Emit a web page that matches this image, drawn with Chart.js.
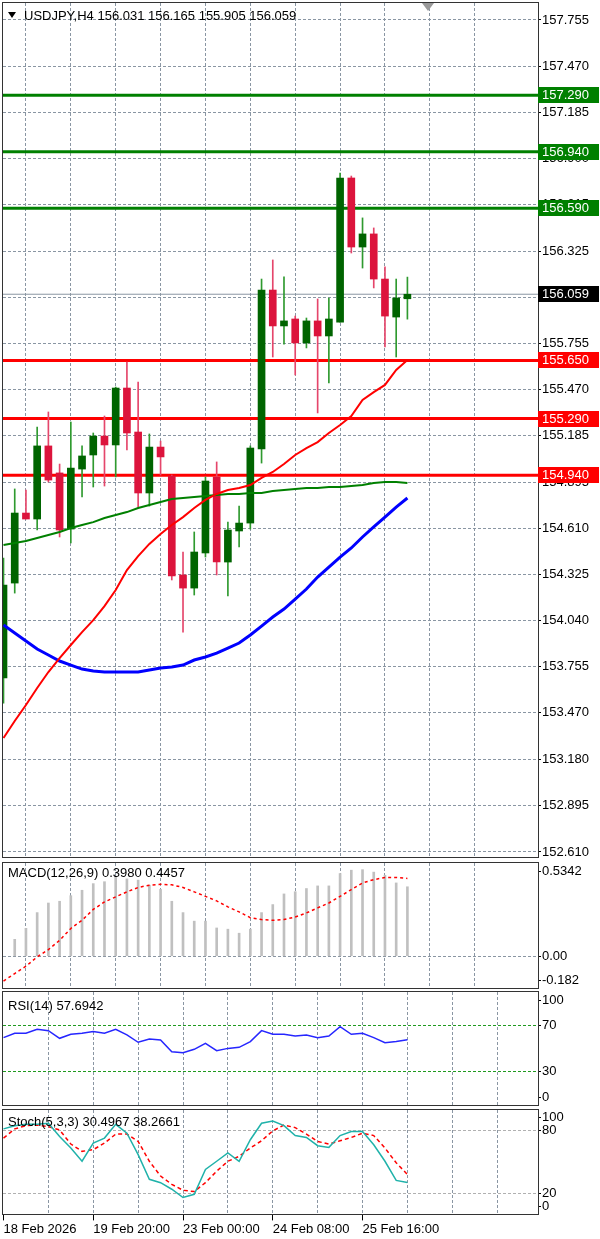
<!DOCTYPE html>
<html>
<head>
<meta charset="utf-8">
<script src="https://cdn.jsdelivr.net/npm/chart.js"></script>
<style>
  body { margin: 0; background: #fff; width: 600px; height: 1239px; position: relative; overflow: hidden;
         font-family: "Liberation Sans", Arial, sans-serif; }
  canvas { position: absolute; left: 0; }
  .lbl { position: absolute; left: 8px; font-size: 13px; line-height: 13px; color: #000; white-space: pre; }
  .tri { position: absolute; width: 0; height: 0; border-left: 4px solid transparent;
         border-right: 4px solid transparent; border-top: 6px solid #000; }
  .shift { position: absolute; left: 422px; top: 3px; width: 0; height: 0; border-left: 6px solid transparent;
           border-right: 6px solid transparent; border-top: 8px solid #9a9a9a; }
</style>
</head>
<body>
<canvas id="mainChart" width="600" height="860" style="top:0"></canvas>
<canvas id="macdChart" width="600" height="130" style="top:860px"></canvas>
<canvas id="rsiChart" width="600" height="117" style="top:989px"></canvas>
<canvas id="stochChart" width="600" height="133" style="top:1106px"></canvas>

<div class="tri" style="left:8px;top:12px"></div>
<div class="shift"></div>
<div class="lbl" style="left:24px;top:9px">USDJPY,H4 156.031 156.165 155.905 156.059</div>
<div class="lbl" style="top:866px">MACD(12,26,9) 0.3980 0.4457</div>
<div class="lbl" style="top:999px">RSI(14) 57.6942</div>
<div class="lbl" style="top:1115px">Stoch(5,3,3) 30.4967 38.2661</div>

<script>
/*********  data  *********/
const opens  = [153.686,154.273,154.706,154.669,155.121,154.954,154.607,154.978,155.065,155.182,155.127,155.479,155.207,154.830,155.114,154.935,154.323,154.242,154.459,154.929,154.403,154.595,154.644,155.102,156.085,155.863,155.906,155.758,155.894,155.801,155.887,156.778,156.351,156.432,156.153,155.918,156.031];
const highs  = [154.428,154.855,154.848,155.238,155.331,155.009,155.269,155.121,155.201,155.306,155.485,155.640,155.516,155.195,155.151,154.941,154.465,154.589,154.929,155.022,154.650,154.749,155.121,156.153,156.271,156.166,155.924,155.912,156.030,156.036,156.809,156.790,156.531,156.469,156.228,156.153,156.165];
const lows   = [153.531,154.211,154.669,154.601,154.898,154.558,154.521,154.805,154.867,154.873,154.929,155.096,154.743,154.749,154.941,154.292,153.970,154.199,154.434,154.323,154.193,154.496,154.607,155.015,155.671,155.751,155.560,155.727,155.325,155.510,155.887,156.314,156.221,156.098,155.733,155.671,155.905];
const closes = [154.261,154.706,154.669,155.121,154.910,154.601,154.984,155.059,155.182,155.127,155.479,155.201,154.830,155.114,155.053,154.317,154.242,154.465,154.904,154.403,154.601,154.644,155.108,156.085,155.863,155.894,155.758,155.894,155.801,155.906,156.778,156.351,156.432,156.153,155.924,156.036,156.059];

const maRed   = [153.315,153.420,153.519,153.624,153.723,153.809,153.890,153.970,154.044,154.130,154.230,154.353,154.440,154.515,154.576,154.632,154.681,154.737,154.787,154.824,154.848,154.861,154.879,154.923,154.960,155.009,155.065,155.108,155.145,155.201,155.250,155.306,155.405,155.454,155.498,155.591,155.652];
const maGreen = [154.508,154.521,154.533,154.552,154.570,154.589,154.613,154.632,154.650,154.675,154.694,154.712,154.737,154.756,154.774,154.793,154.799,154.805,154.811,154.818,154.824,154.824,154.830,154.830,154.842,154.848,154.855,154.861,154.861,154.867,154.867,154.873,154.879,154.892,154.898,154.898,154.892];
const maBlue  = [154.014,153.964,153.915,153.865,153.828,153.791,153.766,153.741,153.729,153.723,153.723,153.723,153.723,153.735,153.748,153.754,153.766,153.797,153.816,153.840,153.871,153.902,153.952,154.007,154.063,154.112,154.174,154.236,154.310,154.372,154.434,154.490,154.558,154.620,154.681,154.743,154.799];

const levelsGreen = [157.290, 156.940, 156.590];
const levelsRed   = [155.650, 155.290, 154.940];
const lastPrice = 156.059;

const priceTicks = [157.755,157.470,157.185,156.900,156.615,156.325,156.040,155.755,155.470,155.185,154.895,154.610,154.325,154.040,153.755,153.470,153.180,152.895,152.610];

const macdHist   = [null,0.097,0.160,0.250,0.305,0.315,0.347,0.378,0.416,0.427,0.454,0.443,0.436,0.407,0.383,0.315,0.250,0.201,0.201,0.162,0.155,0.132,0.155,0.250,0.296,0.357,0.370,0.388,0.403,0.403,0.474,0.493,0.496,0.482,0.464,0.420,0.398];
const macdSignal = [-0.142,-0.099,-0.057,-0.004,0.038,0.091,0.159,0.206,0.268,0.311,0.340,0.369,0.394,0.407,0.412,0.409,0.394,0.369,0.343,0.317,0.283,0.254,0.221,0.210,0.206,0.210,0.225,0.248,0.277,0.305,0.343,0.382,0.420,0.439,0.451,0.451,0.446];
const macdTicks = [0.5342, 0, -0.182];
const macdTickLabels = ['0.5342', '0.00', '-0.182'];

const rsiValues = [59.6,63.5,63.5,67.0,65.8,59.0,62.6,63.5,65.0,63.5,67.0,62.0,55.5,58.4,57.6,47.2,46.3,49.3,54.6,48.1,50.1,51.0,56.1,65.8,62.6,62.6,61.1,62.0,59.6,61.1,69.4,62.6,63.5,59.6,55.2,56.1,57.7];
const rsiTicks = [100, 70, 30, 0];
const rsiLevels = [70, 30];

const stochMain   = [81.9,85.0,86.3,86.3,87.3,74.6,63.6,50.9,68.3,73.1,86.3,77.8,57.3,33.6,30.4,24.1,16.2,19.3,43.0,50.9,58.9,50.9,71.5,87.3,89.5,85.0,75.5,73.7,65.8,64.2,75.5,79.3,79.3,66.7,50.9,32.6,30.5];
const stochSignal = [73.1,81.9,85.0,85.6,84.1,80.9,67.4,60.4,62.0,68.3,76.9,76.9,69.9,50.9,36.7,28.8,23.1,21.9,30.4,41.4,50.9,55.6,63.6,70.5,80.0,85.6,83.1,76.9,69.9,67.4,70.5,73.7,77.8,75.5,63.6,49.4,38.3];
const stochTicks = [100, 80, 20, 0];
const stochLevels = [80, 20];

// one label every 8 bars, grid every 4
const xTickLabels = ['18 Feb 2026', '19 Feb 20:00', '23 Feb 00:00', '24 Feb 08:00', '25 Feb 16:00'];
const gridBars = [0, 4, 8, 12, 16, 20, 24, 28, 32, 36, 40, 44];

/*********  common  *********/
const X_MIN = -0.045, X_MAX = 47.64;
const GRID = '#8a96a3';
const NONE = 'rgba(0,0,0,0)';
Chart.defaults.font.family = '"Liberation Sans", Arial, sans-serif';
Chart.defaults.font.size = 13;
Chart.defaults.color = '#000';
Chart.defaults.animation = false;
Chart.defaults.events = [];
Chart.defaults.plugins.legend.display = false;
Chart.defaults.plugins.tooltip.enabled = false;

const idx = closes.map((_, i) => i);
const pts = arr => idx.map(i => ({ x: i, y: arr[i] }));

const frame = {
  id: 'frame',
  afterDraw(chart) {
    const { ctx, chartArea: a } = chart;
    ctx.save();
    ctx.strokeStyle = '#333';
    ctx.lineWidth = 1;
    ctx.strokeRect(Math.round(a.left) - 0.5, Math.round(a.top) - 0.5,
                   Math.round(a.right - a.left) + 1, Math.round(a.bottom - a.top) + 1);
    ctx.restore();
  }
};

function xAxis(withLabels) {
  const labelled = v => v % 8 === 0 && v / 8 < xTickLabels.length;
  return {
    type: 'linear', min: X_MIN, max: X_MAX, offset: false,
    afterBuildTicks: s => { s.ticks = gridBars.map(v => ({ value: v })); },
    afterFit: s => { s.paddingLeft = 0; s.paddingRight = 0; },
    grid: {
      color: c => (c.tick && c.tick.value > 0 ? GRID : NONE),
      drawTicks: withLabels, tickLength: 6, tickBorderDash: [],
      tickColor: c => (c.tick && labelled(c.tick.value) ? '#000' : NONE)
    },
    border: { display: false, dash: [3, 2] },
    ticks: {
      display: withLabels, align: 'start', padding: 1, maxRotation: 0, autoSkip: false,
      callback: v => (labelled(v) ? xTickLabels[v / 8] : '')
    }
  };
}

// sub window scale, top and bottom labels sit a little inside like MT4
function paneAxis(min, max, values, texts, levels, levelColor, paneH) {
  const inset = (max - min) * 8 / paneH;
  return {
    position: 'right', min: min, max: max,
    afterBuildTicks: s => {
      s.ticks = values.map((v, i) => ({
        value: v === max ? max - inset : v === min ? min + inset : v,
        text: texts[i], level: levels.includes(v)
      }));
    },
    afterFit: s => { s.width = 62; s.paddingTop = 0; s.paddingBottom = 0; },
    grid: { color: c => (c.tick && c.tick.level ? levelColor : NONE), tickLength: 3, tickColor: '#000', tickBorderDash: [] },
    border: { display: false, dash: [3, 2] },
    ticks: { padding: 1, autoSkip: false, callback: (v, i, t) => t[i].text }
  };
}

/*********  price window  *********/
const hline = (v, color, w) => ({
  type: 'line', data: [{ x: X_MIN, y: v }, { x: X_MAX, y: v }],
  borderColor: color, borderWidth: w, pointRadius: 0, order: 4
});
const maLine = (arr, color, w) => ({
  type: 'line', data: pts(arr), borderColor: color, borderWidth: w, pointRadius: 0, tension: 0, order: 0
});
const bull = i => closes[i] >= opens[i];

const levelTags = {
  id: 'levelTags',
  afterDraw(chart) {
    const { ctx, chartArea: a, scales: { y } } = chart;
    const tag = (v, bg) => {
      const py = Math.round(y.getPixelForValue(v));
      ctx.fillStyle = bg;
      ctx.fillRect(a.right, py - 8, 61, 16);
      ctx.fillStyle = '#fff';
      ctx.textBaseline = 'middle';
      ctx.textAlign = 'left';
      ctx.fillText(v.toFixed(3), a.right + 4, py);
    };
    ctx.save();
    ctx.font = '13px "Liberation Sans", Arial, sans-serif';
    levelsGreen.forEach(v => tag(v, '#008000'));
    levelsRed.forEach(v => tag(v, '#ff0000'));
    tag(lastPrice, '#000');
    ctx.restore();
  }
};

new Chart(document.getElementById('mainChart'), {
  type: 'bar',
  data: {
    datasets: [
      ...levelsGreen.map(v => hline(v, '#008000', 3)),
      ...levelsRed.map(v => hline(v, '#ff0000', 3)),
      hline(lastPrice, GRID, 1),
      {
        data: idx.map(i => ({ x: i, y: [lows[i], highs[i]] })),
        backgroundColor: idx.map(i => (bull(i) ? '#2f9a2f' : '#e5466b')),
        barThickness: 1, grouped: false, order: 2
      },
      {
        data: idx.map(i => ({ x: i, y: [opens[i], closes[i]] })),
        backgroundColor: idx.map(i => (bull(i) ? '#006400' : '#dc143c')),
        barThickness: 7, grouped: false, minBarLength: 1, order: 1
      },
      maLine(maRed, '#ff0000', 2),
      maLine(maGreen, '#008000', 2),
      maLine(maBlue, '#0000ff', 3)
    ]
  },
  options: {
    responsive: false,
    layout: { padding: { top: 3, bottom: 3, left: 3, right: 0 } },
    scales: {
      x: xAxis(false),
      y: {
        position: 'right', min: 152.579, max: 157.860,
        afterBuildTicks: s => { s.ticks = priceTicks.map(v => ({ value: v })); },
        afterFit: s => { s.width = 62; s.paddingTop = 0; s.paddingBottom = 0; },
        grid: { color: GRID, tickLength: 3, tickColor: '#000', tickBorderDash: [] },
        border: { display: false, dash: [3, 2] },
        ticks: { padding: 1, autoSkip: false, callback: v => v.toFixed(3) }
      }
    }
  },
  plugins: [frame, levelTags]
});

/*********  MACD  *********/
new Chart(document.getElementById('macdChart'), {
  type: 'bar',
  data: {
    datasets: [
      {
        type: 'line', data: pts(macdSignal), borderColor: '#ff0000', borderWidth: 1.5,
        borderDash: [3, 3], pointRadius: 0, tension: 0, order: 0
      },
      { data: pts(macdHist), backgroundColor: '#c0c0c0', barThickness: 2, order: 1 }
    ]
  },
  options: {
    responsive: false,
    layout: { padding: { top: 3, bottom: 2, left: 3, right: 0 } },
    scales: { x: xAxis(false), y: paneAxis(-0.182, 0.5342, macdTicks, macdTickLabels, [0], GRID, 125) }
  },
  plugins: [frame]
});

/*********  RSI  *********/
new Chart(document.getElementById('rsiChart'), {
  type: 'line',
  data: {
    datasets: [{ data: pts(rsiValues), borderColor: '#2626ff', borderWidth: 1.5, pointRadius: 0, tension: 0 }]
  },
  options: {
    responsive: false,
    layout: { padding: { top: 3, bottom: 1, left: 3, right: 0 } },
    scales: { x: xAxis(false), y: paneAxis(0, 100, rsiTicks, rsiTicks.map(String), rsiLevels, '#1f9a1f', 113) }
  },
  plugins: [frame]
});

/*********  Stochastic  *********/
new Chart(document.getElementById('stochChart'), {
  type: 'line',
  data: {
    datasets: [
      { data: pts(stochMain), borderColor: '#20b2aa', borderWidth: 1.5, pointRadius: 0, tension: 0 },
      { data: pts(stochSignal), borderColor: '#ff0000', borderWidth: 1.5, borderDash: [4, 3], pointRadius: 0, tension: 0 }
    ]
  },
  options: {
    responsive: false,
    layout: { padding: { top: 4, bottom: 1, left: 3, right: 0 } },
    scales: { x: xAxis(true), y: paneAxis(0, 100, stochTicks, stochTicks.map(String), stochLevels, '#b0b0b0', 106) }
  },
  plugins: [frame]
});
</script>
</body>
</html>
